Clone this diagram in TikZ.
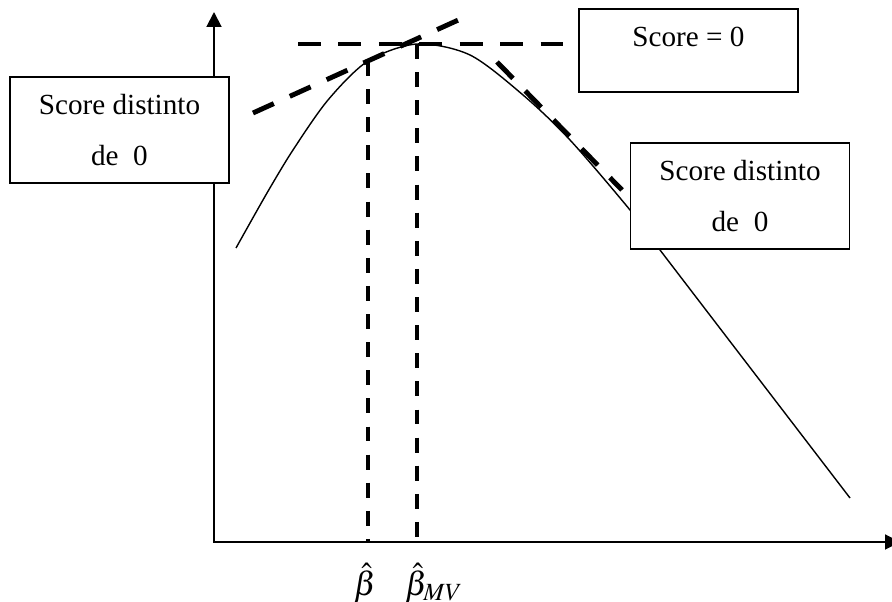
\documentclass[tikz,border=0pt]{standalone}
\usepackage{mathptmx}
\usepackage{fontspec}
\setmainfont{Liberation Serif}
\usetikzlibrary{arrows.meta, positioning}
\newcommand{\boxfont}{\fontsize{16.6}{29}\selectfont}
\newcommand{\labelfont}{\fontsize{19}{23}\selectfont}

\begin{document}
\begin{tikzpicture}[>={Triangle[length=8.5pt, width=8.5pt]},
    scorebox/.style={draw, fill=white, line width=0.8pt, font=\boxfont,
                     align=center, inner sep=0pt, minimum width=4.38cm},
    tangent/.style={line width=2.8pt, dash pattern=on 13pt off 10pt},
    guide/.style={line width=2pt, dash pattern=on 8.5pt off 7.5pt}]
  \useasboundingbox (0,0) rectangle (17.84,12.04);
  % Axes
  \coordinate (origin) at (4.28,1.20);
  \coordinate (ytop) at (4.28,11.80);
  \coordinate (xend) at (18.00,1.20);
  \draw[<->, line width=1.1pt] (ytop) -- (origin) -- (xend);
  % Likelihood curve
  \draw[line width=0.8pt] plot[smooth] coordinates {
    (4.72,7.08) (5.34,8.18) (5.86,9.04) (6.56,10.04) (7.36,10.82)
    (8.34,11.16) (9.40,10.94) (10.46,10.14) (11.40,9.24) (12.60,7.84)
    (13.20,7.04) (17.00,2.08)};
  \coordinate (betahat) at (7.36,10.82);
  \coordinate (betamv) at (8.34,11.16);
  % Tangents
  \draw[tangent] (5.06,9.78) -- (9.30,11.70);
  \draw[tangent] (5.96,11.16) -- (11.30,11.16);
  \draw[tangent] (9.94,10.80) -- (12.44,8.24);
  % Estimates
  \coordinate (hatfoot) at (betahat |- origin);
  \coordinate (mvfoot) at (betamv |- origin);
  \draw[guide] (betahat) -- (hatfoot);
  \draw[guide, line width=2.3pt] (betamv) -- (mvfoot);
  \node[below=0.42cm of hatfoot, xshift=-0.06cm, inner sep=0pt, font=\labelfont] (lblhat) {$\hat{\beta}$};
  \node[below=0.42cm of mvfoot, xshift=0.34cm, inner sep=0pt, font=\labelfont] (lblmv) {$\hat{\beta}_{MV}$};
  % Boxes
  \node[scorebox, minimum height=2.12cm] (leftbox) at (2.39,9.44) {Score distinto\\de~~0};
  \node[scorebox, minimum height=2.12cm] (rightbox) at (14.80,8.12) {Score distinto\\de~~0};
  \node[scorebox, text height=21.3pt, text depth=25.8pt] (zerobox) at (13.77,11.03) {Score = 0};
\end{tikzpicture}
\end{document}
